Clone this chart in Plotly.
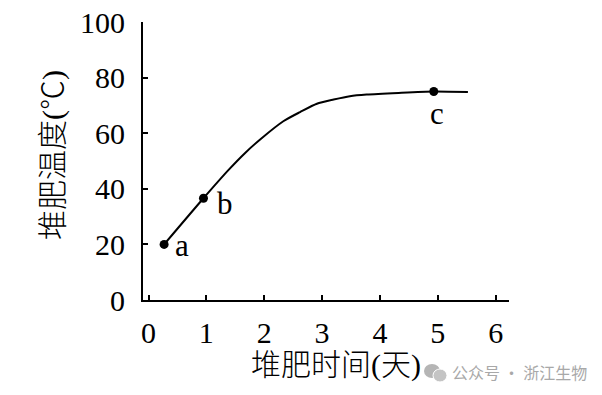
import plotly.graph_objects as go

# Data
days = [0.27, 0.95, 1.38, 1.67, 1.95, 2.33, 2.62, 2.91, 3.20, 3.48, 3.77, 4.32, 4.93, 5.52]
temp = [20.0, 36.6, 46.7, 52.9, 58.1, 64.3, 67.6, 70.6, 72.1, 73.3, 73.9, 74.5, 75.0, 74.8]

point_labels = ["a", "b", "c"]
point_days = [0.27, 0.95, 4.93]
point_temp = [20.0, 36.6, 75.0]

x_ticks = [0, 1, 2, 3, 4, 5, 6]
y_ticks = [0, 20, 40, 60, 80, 100]

x_title = "堆肥时间(天)"
y_title = "堆肥温度(℃)"
watermark = "公众号 · 浙江生物"

SERIF = "Liberation Serif, Noto Sans CJK SC, serif"

fig = go.Figure()
fig.add_trace(go.Scatter(
    x=days, y=temp, mode="lines",
    line=dict(color="black", width=2, shape="spline", smoothing=0.7),
    hoverinfo="skip", showlegend=False,
))
fig.add_trace(go.Scatter(
    x=point_days, y=point_temp, mode="markers",
    marker=dict(color="black", size=9),
    showlegend=False,
))

label_offsets = {"a": (18, -1), "b": (22, -5), "c": (3, -22)}
for lab, xd, yd in zip(point_labels, point_days, point_temp):
    dx, dy = label_offsets[lab]
    fig.add_annotation(x=xd, y=yd, text=lab, showarrow=False,
                       xshift=dx, yshift=dy,
                       font=dict(family=SERIF, size=31, color="black"))

fig.add_annotation(xref="paper", yref="paper", x=(336 - 143) / 366, y=(300 - 365) / 278,
                   text=x_title, showarrow=False, xanchor="center", yanchor="middle",
                   font=dict(family=SERIF, size=30, color="black", weight=300))
fig.add_annotation(xref="paper", yref="paper", x=(53 - 143) / 366, y=(300 - 155) / 278,
                   text=y_title, showarrow=False, textangle=-90, xanchor="center", yanchor="middle",
                   font=dict(family=SERIF, size=30, color="black", weight=300))

fig.add_annotation(xref="paper", yref="paper", x=(450 - 143) / 366, y=(300 - 372) / 278,
                   text=watermark, showarrow=False, xanchor="left", yanchor="middle",
                   font=dict(family="Noto Sans CJK SC", size=16, color="#a8a8a8"))
# small WeChat-like icon of the watermark
fig.add_shape(type="circle", xref="paper", yref="paper",
              x0=(424 - 143) / 366, x1=(440 - 143) / 366,
              y0=(300 - 378) / 278, y1=(300 - 364) / 278,
              fillcolor="#b5b5b5", line=dict(width=0))
fig.add_shape(type="circle", xref="paper", yref="paper",
              x0=(433 - 143) / 366, x1=(447 - 143) / 366,
              y0=(300 - 382) / 278, y1=(300 - 369) / 278,
              fillcolor="#c4c4c4", line=dict(color="white", width=1))

fig.update_xaxes(range=[-0.095, 6.23], tickvals=x_ticks, ticktext=[str(t) for t in x_ticks],
                 showgrid=False, zeroline=False, showline=True, linecolor="black", linewidth=2,
                 ticks="inside", ticklen=5, tickwidth=2, tickcolor="black", automargin=False,
                 tickfont=dict(family=SERIF, size=30, color="black"), ticklabelstandoff=5)
fig.update_yaxes(range=[0, 100], tickvals=y_ticks,
                 showgrid=False, zeroline=False, showline=True, linecolor="black", linewidth=2,
                 ticks="inside", ticklen=5, tickwidth=2, tickcolor="black", automargin=False,
                 tickfont=dict(family=SERIF, size=30, color="black"), ticklabelstandoff=10)

fig.update_layout(width=602, height=395, margin=dict(l=143, r=93, t=22, b=95),
                  plot_bgcolor="white", paper_bgcolor="white")

fig.write_html("out.html")
